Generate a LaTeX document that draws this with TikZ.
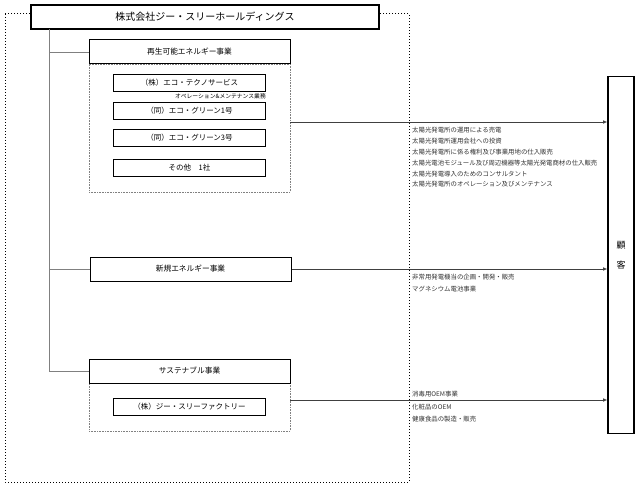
\documentclass[tikz,border=0pt]{standalone}
\usepackage{fontspec}
\setmainfont{Noto Sans CJK JP}
\usetikzlibrary{arrows.meta}

\begin{document}
\begin{tikzpicture}[x=1pt, y=-1pt,
    hdr/.style={draw, line width=1pt, fill=white, minimum width=201pt, minimum height=24pt, inner sep=0pt, font=\fontsize{7.7}{9}\selectfont},
    grp/.style={draw=gray, dash pattern=on 1pt off 0.6pt, line width=0.5pt, minimum width=201pt, inner sep=0pt},
    co/.style={draw, line width=0.8pt, minimum width=152pt, minimum height=17pt, inner sep=0pt, font=\fontsize{7.5}{9}\selectfont},
    note/.style={anchor=west, inner sep=0pt, text=black!80, font=\fontsize{6.4}{8}\selectfont},
    tree/.style={draw=gray, line width=0.6pt},
    flow/.style={draw=black!75, line width=0.6pt, -{Latex[length=4pt,width=3.5pt]}}]
  \useasboundingbox (0,0) rectangle (639,486);
  \draw[dotted, line width=1pt] (5,14) rectangle (409,482); % group frame
  \node[draw, line width=1.6pt, fill=white, minimum width=348pt, minimum height=24pt, inner sep=0pt, font=\fontsize{10}{12}\selectfont] (hd) at (205,17) {株式会社ジー・スリーホールディングス};

  % renewable energy
  \node[grp, minimum height=128pt] (reg) at (189.5,128) {};
  \node[hdr] (re) at (189.5,52) {再生可能エネルギー事業};
  \node[co] (ets) at (189.5,83) {（株）エコ・テクノサービス};
  \node[anchor=east, inner sep=0pt, font=\fontsize{5.8}{7}\selectfont] (om) at (266,96.5) {オペレーション\&メンテナンス業務};
  \node[co] (eg1) at (189.5,111) {（同）エコ・グリーン1号};
  \node[co] (eg3) at (189.5,138) {（同）エコ・グリーン3号};
  \node[co] (oth) at (189.5,168) {その他　1社};

  % new energy
  \node[hdr] (ne) at (190.5,269) {新規エネルギー事業};

  % sustainable
  \node[grp, minimum height=48pt] (sug) at (189.5,407) {};
  \node[hdr] (su) at (189.5,371) {サステナブル事業};
  \node[co] (gsf) at (189.5,407) {（株）ジー・スリーファクトリー};

  % customers
  \node[draw, line width=1.6pt, minimum width=26pt, minimum height=357pt, inner sep=0pt, align=center, font=\fontsize{9}{20}\selectfont] (cu) at (621,255) {顧\\客};

  % tree
  \coordinate (tr) at (49,29);
  \draw[tree] (tr) |- (su.west);
  \draw[tree] (tr |- re.west) -- (re.west);
  \draw[tree] (tr |- ne.west) -- (ne.west);

  % flows
  \coordinate (f1) at ([yshift=6pt]reg.east);
  \coordinate (f3) at ([yshift=7pt]sug.east);
  \draw[flow] (f1) -- (f1 -| cu.west);
  \draw[flow] (ne.east) -- (ne.east -| cu.west);
  \draw[flow] (f3) -- (f3 -| cu.west);

  \foreach \t [count=\i from 0] in {太陽光発電所の運用による売電, 太陽光発電所運用会社への投資, 太陽光発電所に係る権利及び事業用地の仕入販売, 太陽光電池モジュール及び周辺機器等太陽光発電商材の仕入販売, 太陽光発電導入のためのコンサルタント, 太陽光発電所のオペレーション及びメンテナンス}
    \node[note] (rn\i) at (412,130.5+10.8*\i) {\t};
  \node[note] (nn0) at (412,277) {非常用発電機当の企画・開発・販売};
  \node[note] (nn1) at (412,289) {マグネシウム電池事業};
  \node[note] (sn0) at (412,394) {消毒用OEM事業};
  \node[note] (sn1) at (412,407) {化粧品のOEM};
  \node[note] (sn2) at (412,419) {健康食品の製造・販売};
\end{tikzpicture}
\end{document}
